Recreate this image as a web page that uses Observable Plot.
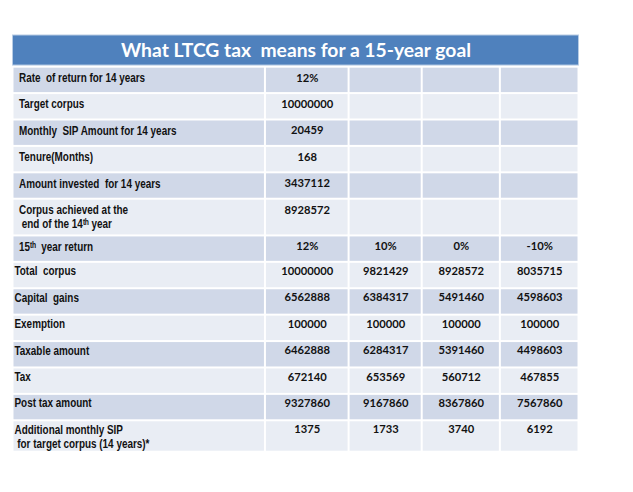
<!DOCTYPE html>
<html><head><meta charset="utf-8">
<script src="https://cdn.jsdelivr.net/npm/d3@7"></script>
<script src="https://cdn.jsdelivr.net/npm/@observablehq/plot@0.6"></script>
<style>
html,body{margin:0;padding:0;background:#fff;}
svg text{white-space:pre;}
</style></head><body><div id="chart"></div>
<script>
// ---- data ----
const title = "What LTCG tax  means for a 15-year goal";
const rowLabels = [
  "Rate  of return for 14 years",
  "Target corpus",
  "Monthly  SIP Amount for 14 years",
  "Tenure(Months)",
  "Amount invested  for 14 years",
  "Corpus achieved at the\n end of the 14ᵗʰ year",
  "15ᵗʰ  year return",
  "Total  corpus",
  "Capital  gains",
  "Exemption",
  "Taxable amount",
  "Tax",
  "Post tax amount",
  "Additional monthly SIP\n for target corpus (14 years)*"
];
const baseInputs = ["12%", "10000000", "20459", "168", "3437112", "8928572"];
const fifteenthYearReturn = ["12%", "10%", "0%", "-10%"];
const totalCorpus = [10000000, 9821429, 8928572, 8035715];
const capitalGains = [6562888, 6384317, 5491460, 4598603];
const exemption = [100000, 100000, 100000, 100000];
const taxableAmount = [6462888, 6284317, 5391460, 4498603];
const tax = [672140, 653569, 560712, 467855];
const postTaxAmount = [9327860, 9167860, 8367860, 7567860];
const additionalSIP = [1375, 1733, 3740, 6192];
const scenarioRows = [fifteenthYearReturn, totalCorpus, capitalGains, exemption, taxableAmount, tax, postTaxAmount, additionalSIP];

// ---- layout ----
const colWidths = [252, 83.5, 73, 78, 78.5];
const colEdges = Array.from(d3.cumsum([0, ...colWidths]));
const totalW = colEdges[colEdges.length - 1];
const titleH = 1.138, titleGap = 0.062;
const dark = "#d0d8e8", light = "#e9edf4", blue = "#4f81bd";

const rows = [];
let yPos = titleH + titleGap;
rowLabels.forEach((label, i) => {
  const lines = label.split("\n");
  const indented = i <= baseInputs.length;
  const h = lines.length === 1 ? 1 : (indented ? 1.39 : 1.19);
  const values = i < baseInputs.length ? [baseInputs[i], "", "", ""] : scenarioRows[i - baseInputs.length].map(String);
  rows.push({i, lines, indented, y1: yPos, y2: yPos + h, values, fill: i % 2 === 0 ? dark : light,
             ty: yPos + (indented ? 0.41 : 0.34)});
  yPos += h;
});
const totalH = yPos;

const cells = rows.flatMap(r => colEdges.slice(0, -1).map((x1, c) => ({x1, x2: colEdges[c + 1], y1: r.y1, y2: r.y2, fill: r.fill})));
const labelLines = rows.flatMap(r => r.lines.map((t, k) => ({text: t, x: 0, y: r.ty + k * 0.53, indented: r.indented})));
const valueTexts = rows.flatMap(r => r.values.map((t, c) => ({text: t, x: (colEdges[c + 1] + colEdges[c + 2]) / 2, y: r.ty})));

const labelFont = "'Liberation Sans', Arial, sans-serif";

const chart = Plot.plot({
  width: 633, height: 492, margin: 0,
  x: {domain: [0, totalW], range: [12.5, 578.5], axis: null},
  y: {domain: [0, totalH], range: [35, 451.7], axis: null},
  color: {type: "identity"},
  style: {background: "#fff"},
  marks: [
    Plot.rect([{x1: 0, x2: totalW, y1: 0, y2: titleH}], {x1: "x1", x2: "x2", y1: "y1", y2: "y2", fill: blue, stroke: "#b8cce4", strokeWidth: 1}),
    Plot.text([{x: totalW / 2, y: titleH / 2, text: title}], {x: "x", y: "y", text: "text", fill: "white", fontSize: 19.3, fontWeight: "bold", fontFamily: "Lato, sans-serif"}),
    Plot.rect(cells, {x1: "x1", x2: "x2", y1: "y1", y2: "y2", fill: "fill", inset: 1}),
    Plot.text(labelLines.filter(d => d.indented), {x: "x", y: "y", text: "text", textAnchor: "start", dx: 6, fontSize: 12.4, fontWeight: "bold", fontFamily: labelFont, fill: "#111"}),
    Plot.text(labelLines.filter(d => !d.indented), {x: "x", y: "y", text: "text", textAnchor: "start", dx: 1.5, fontSize: 12.4, fontWeight: "bold", fontFamily: labelFont, fill: "#111"}),
    Plot.text(valueTexts.filter(d => d.text !== ""), {x: "x", y: "y", text: "text", fontSize: 11.2, fontWeight: "bold", fontFamily: "Lato, sans-serif", fill: "#111"})
  ]
});
// narrow the label glyphs horizontally (Arial Narrow look)
const textGroups = chart.querySelectorAll('g[aria-label="text"]');
[textGroups[1], textGroups[2]].forEach(g => {
  g.querySelectorAll("text").forEach(t => {
    const tr = t.getAttribute("transform") || "";
    t.setAttribute("transform", tr + " scale(0.8,1)");
  });
});
document.getElementById("chart").appendChild(chart);
</script></body></html>
